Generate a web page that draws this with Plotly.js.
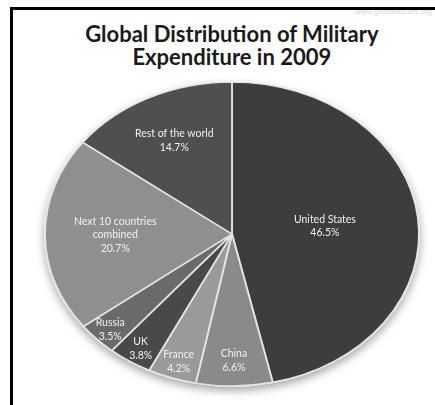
<!DOCTYPE html>
<html><head><meta charset="utf-8">
<script src="https://cdn.plot.ly/plotly-3.0.1.min.js"></script>
<style>
html,body{margin:0;padding:0;background:#fff;}
#wrap{position:relative;width:435px;height:405px;overflow:hidden;}
#chart{position:absolute;left:0;top:0;width:435px;height:405px;}
#frame{position:absolute;left:10px;top:7px;width:440px;height:420px;border-top:3px solid #000;border-left:3px solid #000;pointer-events:none;}
</style></head><body>
<div id="wrap"><div id="chart"></div><div id="frame"></div></div>
<script>
const countries = ["United States","China","France","UK","Russia","Next 10 countries combined","Rest of the world"];
const sliceText = ["United States","China","France","UK","Russia","Next 10 countries<br>combined","Rest of the world"];
const shares = [46.5, 6.6, 4.2, 3.8, 3.5, 20.7, 14.7];
const sliceColors = ["#3c3c3c","#8a8a8a","#9a9a9a","#4a4a4a","#6a6a6a","#8f8f8f","#4f4f4f"];
const chartTitle = "Global Distribution of Military<br>Expenditure in 2009";
const watermark = "www.globalissues.org";

const data = [{
  type: 'pie',
  labels: countries,
  values: shares,
  text: sliceText,
  texttemplate: '%{text}<br>%{value:.1f}%',
  sort: false,
  direction: 'clockwise',
  rotation: 0,
  textposition: 'inside',
  insidetextorientation: 'horizontal',
  marker: {colors: sliceColors, line: {color: '#e4e4e4', width: 1.5}},
  textfont: {family: 'Lato', size: 10.5, color: '#f0f0f0'},
  domain: {x: [0.1833, 0.8833], y: [0.0469, 0.7975]},
  hoverinfo: 'none',
  showlegend: false
}];

const layout = {
  width: 435, height: 405,
  margin: {l: 0, r: 0, t: 0, b: 0},
  paper_bgcolor: '#ffffff',
  showlegend: false,
  title: {
    text: chartTitle,
    font: {family: 'Lato', size: 22, color: '#1a1a1a', weight: 'bold'},
    x: 0.533, xanchor: 'center', xref: 'paper',
    y: 0.897, yanchor: 'top', yref: 'container'
  },
  annotations: [{
    text: watermark, xref: 'paper', yref: 'paper', x: 0.81, y: 0.972,
    xanchor: 'left', yanchor: 'middle', showarrow: false,
    font: {family: 'Liberation Sans', size: 8, color: '#d6d6d6'}
  }]
};

Plotly.newPlot('chart', data, layout, {staticPlot: true}).then(function(gd) {
  const tl = gd.querySelectorAll('.gtitle tspan.line');
  for (let i = 1; i < tl.length; i++) tl[i].setAttribute('dy', '1.08em');

  const cd = gd.calcdata[0][0];
  const cx = cd.cx, cy = cd.cy;
  const sx = 187 / 152;
  const g = gd.querySelector('.pielayer .trace');
  if (!g) return;
  g.setAttribute('transform', 'translate(' + cx + ',' + cy + ') scale(' + sx + ',1) translate(' + (-cx) + ',' + (-cy) + ')');
  const svg = gd.querySelector('svg.main-svg');
  const ns = 'http://www.w3.org/2000/svg';
  let defs = svg.querySelector('defs');
  if (!defs) { defs = document.createElementNS(ns, 'defs'); svg.insertBefore(defs, svg.firstChild); }
  const f = document.createElementNS(ns, 'filter');
  f.setAttribute('id', 'pieshadow');
  f.setAttribute('x', '-20%'); f.setAttribute('y', '-20%');
  f.setAttribute('width', '140%'); f.setAttribute('height', '150%');
  const ds = document.createElementNS(ns, 'feDropShadow');
  ds.setAttribute('dx', '0'); ds.setAttribute('dy', '4');
  ds.setAttribute('stdDeviation', '4');
  ds.setAttribute('flood-color', '#000'); ds.setAttribute('flood-opacity', '0.35');
  f.appendChild(ds); defs.appendChild(f);
  g.setAttribute('filter', 'url(#pieshadow)');
  gd.querySelectorAll('.pielayer g.slicetext text').forEach(function(t) {
    const tr = t.getAttribute('transform') || '';
    const mt = tr.match(/translate\(\s*([-\d.e]+)[\s,]+([-\d.e]+)\s*\)/);
    const ms = tr.match(/scale\(\s*([-\d.e]+)/);
    const tx = mt ? parseFloat(mt[1]) : 0, ty = mt ? parseFloat(mt[2]) : 0;
    const s = ms ? parseFloat(ms[1]) : 1;
    const bb = t.getBBox();
    const textX = bb.x + bb.width / 2, textY = bb.y + bb.height / 2;
    const targetX = tx + s * textX, targetY = ty + s * textY;
    t.setAttribute('transform', 'translate(' + targetX + ',' + targetY + ') scale(' + (1 / sx) + ',1) translate(' + (-textX) + ',' + (-textY) + ')');
  });
});
</script>
</body></html>
